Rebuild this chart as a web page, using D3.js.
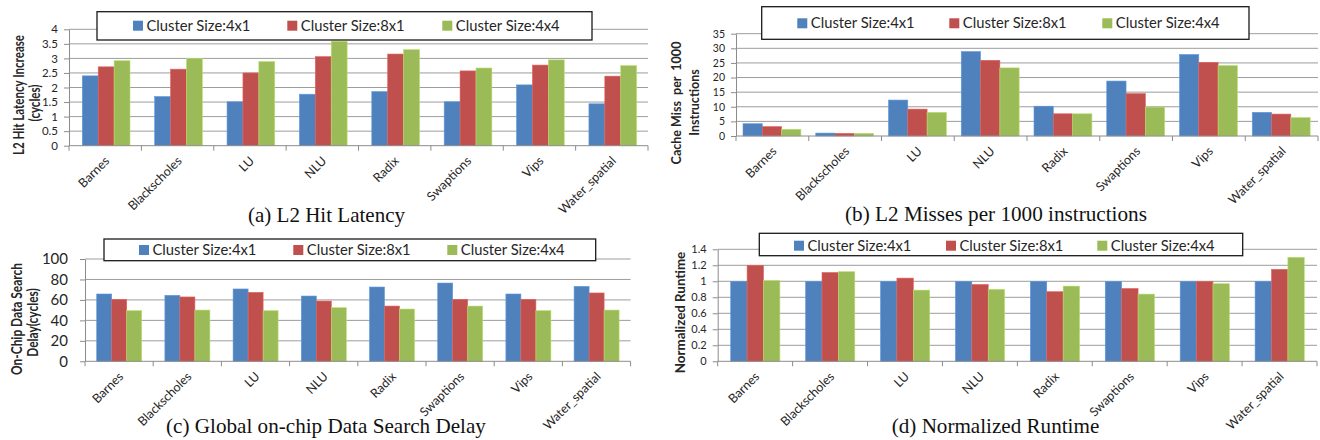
<!DOCTYPE html>
<html>
<head>
<meta charset="utf-8">
<script src="https://cdn.jsdelivr.net/npm/d3@7"></script>
<style>
  body { margin: 0; background: #fff; }
  svg { display: block; }
  text { font-family: Lato, "Open Sans", sans-serif; fill: #262626; }
  .caption { font-family: "Liberation Serif", "Times New Roman", serif; fill: #111; }
</style>
</head>
<body>
<svg width="1320" height="440"></svg>
<script>
// benchmarks on the x axis, same order in every panel
var categories = ["Barnes", "Blackscholes", "LU", "NLU", "Radix", "Swaptions", "Vips", "Water_spatial"];
var seriesNames = ["Cluster Size:4x1", "Cluster Size:8x1", "Cluster Size:4x4"];
var colors = ["#4f81bd", "#c0504d", "#9bbb59"];

// (a) L2 hit latency increase (cycles)
var hitLatency4x1 = [2.40, 1.69, 1.51, 1.77, 1.86, 1.51, 2.09, 1.44];
var hitLatency8x1 = [2.71, 2.63, 2.50, 3.06, 3.15, 2.57, 2.77, 2.39];
var hitLatency4x4 = [2.92, 3.00, 2.89, 3.59, 3.30, 2.67, 2.95, 2.75];
var hitLatencyTicks = [0, 0.5, 1, 1.5, 2, 2.5, 3, 3.5, 4];

// (b) cache misses per 1000 instructions
var misses4x1 = [4.2, 1.0, 12.3, 28.9, 10.2, 18.8, 27.9, 8.1];
var misses8x1 = [3.2, 0.9, 9.2, 25.9, 7.6, 14.5, 25.2, 7.5];
var misses4x4 = [2.3, 0.9, 8.1, 23.3, 7.6, 9.9, 24.1, 6.3];
var missesTicks = [0, 5, 10, 15, 20, 25, 30, 35];

// (c) on-chip data search delay (cycles)
var searchDelay4x1 = [65.8, 64.5, 70.7, 63.8, 72.6, 76.5, 65.8, 73.3];
var searchDelay8x1 = [60.6, 62.9, 67.4, 58.9, 54.0, 60.6, 60.6, 66.8];
var searchDelay4x4 = [49.5, 50.1, 49.5, 52.4, 51.1, 54.0, 49.5, 50.1];
var searchDelayTicks = [0, 20, 40, 60, 80, 100];

// (d) normalized runtime
var runtime4x1 = [1, 1, 1, 1, 1, 1, 1, 1];
var runtime8x1 = [1.20, 1.11, 1.04, 0.96, 0.87, 0.91, 1.00, 1.15];
var runtime4x4 = [1.01, 1.12, 0.89, 0.90, 0.94, 0.84, 0.97, 1.30];
var runtimeTicks = [0, 0.2, 0.4, 0.6, 0.8, 1, 1.2, 1.4];

var svg = d3.select("svg");

// layout of each panel (pixel positions taken from the figure)
var panels = [
  { values: [hitLatency4x1, hitLatency8x1, hitLatency4x4], ticks: hitLatencyTicks,
    x0: 69, x1: 648, yTop: 29.3, yBase: 145.7, barOffset: 13.3, barWidth: 15.9,
    tickFont: 11.5, tickPad: 6,
    title: ["L2 Hit Latency Increase", "(cycles)"], titleX: [24, 39.5], titleY: [95, 103],
    titleFont: 15.5, titleLen: 120,
    legend: { x: 97, y: 11.7, w: 495, h: 28.3, sx: [133, 287.3, 442.3], sy: 20.7 },
    caption: "(a) L2 Hit Latency", capX: 326.5, capY: 222, capLen: 157 },
  { values: [misses4x1, misses8x1, misses4x4], ticks: missesTicks,
    x0: 736, x1: 1318, yTop: 33.7, yBase: 136, barOffset: 7, barWidth: 19.3,
    tickFont: 10.5, tickPad: 6,
    title: ["Cache Miss  per  1000", "Instructions"], titleX: [680.5, 699], titleY: [103, 102.5],
    titleFont: 12.5, titleLen: 123,
    legend: { x: 761.7, y: 6.7, w: 487.3, h: 32.6, sx: [797.3, 949.3, 1102.3], sy: 18.3 },
    caption: "(b) L2 Misses per 1000 instructions", capX: 996, capY: 221, capLen: 302 },
  { values: [searchDelay4x1, searchDelay8x1, searchDelay4x4], ticks: searchDelayTicks,
    x0: 85, x1: 630.6, yTop: 259, yBase: 361.3, barOffset: 11.7, barWidth: 15,
    tickFont: 15, tickPad: 12,
    title: ["On-Chip Data Search", "Delay(cycles)"], titleX: [21.5, 38], titleY: [319, 322.5],
    titleFont: 14.5, titleLen: 112,
    legend: { x: 104, y: 239, w: 491.7, h: 21.7, sx: [139, 293.3, 447.3], sy: 245 },
    caption: "(c) Global on-chip Data Search Delay", capX: 326, capY: 433, capLen: 320 },
  { values: [runtime4x1, runtime8x1, runtime4x4], ticks: runtimeTicks,
    x0: 717.7, x1: 1317, yTop: 249.3, yBase: 361.3, barOffset: 13, barWidth: 16.4,
    tickFont: 11, tickPad: 6,
    title: ["Normalized Runtime"], titleX: [685], titleY: [312.5],
    titleFont: 13.5, titleLen: 121.6,
    legend: { x: 759.3, y: 233.3, w: 483.4, h: 22.4, sx: [794, 946, 1097.3], sy: 240.7 },
    caption: "(d) Normalized Runtime", capX: 995.5, capY: 433, capLen: 207.5 }
];

// scale a text's font size so it spans the given length
function fitText(sel, target) {
  var len = sel.node().getComputedTextLength();
  var fs = parseFloat(sel.style("font-size"));
  var size = fs * target / len;
  sel.style("font-size", size.toFixed(2) + "px");
  return size;
}

function drawPanel(p) {
  var g = svg.append("g");

  var x = d3.scaleBand().domain(categories).range([p.x0, p.x1]);
  var xs = d3.scaleBand().domain(d3.range(seriesNames.length))
      .range([p.barOffset, p.barOffset + seriesNames.length * p.barWidth]);
  var y = d3.scaleLinear().domain([0, d3.max(p.ticks)]).range([p.yBase, p.yTop]);

  // gridlines
  g.append("g").selectAll("line")
    .data(p.ticks.slice(1))
    .join("line")
      .attr("x1", p.x0).attr("x2", p.x1)
      .attr("y1", function(d) { return y(d); })
      .attr("y2", function(d) { return y(d); })
      .attr("stroke", "#9d9d9d");

  // y axis
  var ya = g.append("g")
      .attr("transform", "translate(" + p.x0 + ",0)")
      .call(d3.axisLeft(y).tickValues(p.ticks).tickSize(5).tickSizeOuter(0)
        .tickPadding(p.tickPad).tickFormat(String));
  ya.attr("font-family", null).attr("font-size", null);
  ya.select(".domain").attr("stroke", "#8c8c8c");
  ya.selectAll(".tick line").attr("stroke", "#8c8c8c");
  ya.selectAll(".tick text").style("font-size", p.tickFont + "px").attr("fill", "#333");

  // bars
  var groups = g.append("g").selectAll("g")
    .data(categories)
    .join("g")
      .attr("transform", function(c) { return "translate(" + x(c) + ",0)"; });

  groups.selectAll("rect")
    .data(function(c, ci) { return p.values.map(function(vals, si) { return { si: si, v: vals[ci] }; }); })
    .join("rect")
      .attr("x", function(d) { return xs(d.si); })
      .attr("y", function(d) { return y(d.v); })
      .attr("width", xs.bandwidth())
      .attr("height", function(d) { return y(0) - y(d.v); })
      .attr("fill", function(d) { return colors[d.si]; })
      .attr("stroke", function(d) { return d3.color(colors[d.si]).brighter(0.5); })
      .attr("stroke-width", 0.6);

  // x axis line with ticks at category boundaries
  g.append("line")
    .attr("x1", p.x0).attr("x2", p.x1)
    .attr("y1", y(0)).attr("y2", y(0))
    .attr("stroke", "#8c8c8c");

  var bounds = categories.map(function(c) { return x(c); }).concat([p.x1]);
  g.append("g").selectAll("line")
    .data(bounds)
    .join("line")
      .attr("x1", function(d) { return d; }).attr("x2", function(d) { return d; })
      .attr("y1", y(0)).attr("y2", y(0) + 5)
      .attr("stroke", "#8c8c8c");

  g.append("g").selectAll("text")
    .data(categories)
    .join("text")
      .attr("transform", function(c) {
        return "translate(" + (x(c) + x.bandwidth() / 2 + 5) + "," + (y(0) + 16) + ") rotate(-45)";
      })
      .attr("text-anchor", "end")
      .style("font-size", "12.5px")
      .text(function(c) { return c; });

  // y axis title: the figure's font is narrow, so squeeze along the text
  var k = 1;
  p.title.forEach(function(t, i) {
    var tt = g.append("text")
      .attr("text-anchor", "middle")
      .attr("font-weight", "bold")
      .style("font-size", p.titleFont + "px")
      .style("white-space", "pre")
      .text(t);
    if (i == 0) k = p.titleLen / tt.node().getComputedTextLength();
    tt.attr("transform", "translate(" + p.titleX[i] + "," + p.titleY[i] + ") rotate(-90) scale(" + k.toFixed(3) + ",1)");
  });

  // legend box
  var L = p.legend;
  var lg = g.append("g");
  lg.append("rect")
    .attr("x", L.x).attr("y", L.y).attr("width", L.w).attr("height", L.h)
    .attr("fill", "#fff").attr("stroke", "#1a1a1a").attr("stroke-width", 1.3);

  var items = lg.selectAll("g")
    .data(seriesNames)
    .join("g")
      .attr("transform", function(d, i) { return "translate(" + L.sx[i] + "," + L.sy + ")"; });
  items.append("rect")
    .attr("width", 10).attr("height", 10)
    .attr("fill", function(d, i) { return colors[i]; });
  items.append("text")
    .attr("x", 13.5).attr("y", 10)
    .style("font-size", "15px")
    .text(function(d) { return d; })
    .each(function() { fitText(d3.select(this), 104); });

  // caption under the panel
  var cap = g.append("text")
    .attr("class", "caption")
    .attr("x", p.capX).attr("y", p.capY)
    .attr("text-anchor", "middle")
    .style("font-size", "20px")
    .text(p.caption);
  fitText(cap, p.capLen);
}

panels.forEach(drawPanel);
</script>
</body>
</html>
